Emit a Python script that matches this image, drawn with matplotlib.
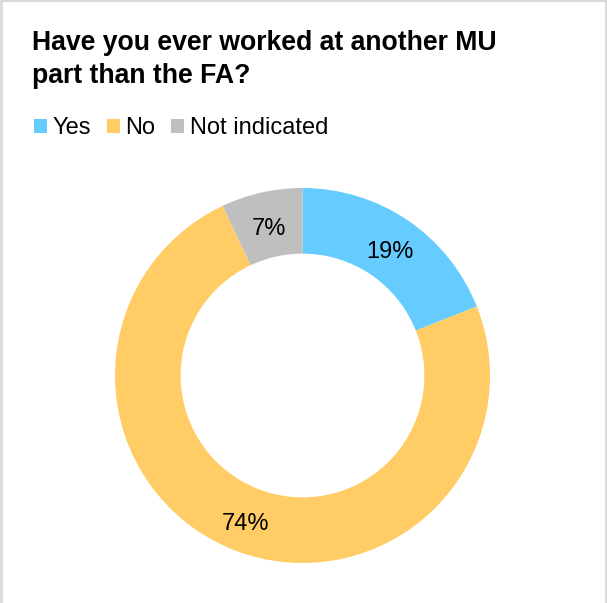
"""Donut chart: have respondents worked at another MU part than the FA."""

import matplotlib

matplotlib.use("Agg")
import matplotlib.pyplot as plt
import numpy as np
from matplotlib.lines import Line2D
from matplotlib.patches import Patch

categories = ["Yes", "No", "Not indicated"]
shares = [19, 74, 7]
colors = ["#66CCFF", "#FFCC66", "#BFBFBF"]
title = "Have you ever worked at another MU\npart than the FA?"

plt.rcParams["font.family"] = ["Liberation Sans", "DejaVu Sans"]

W, H = 607, 603
fig = plt.figure(figsize=(W / 100, H / 100), dpi=100)

# donut: centre (302, 376) px, outer radius 188 px
cx, cy, r = 302.5, 375.5, 187.5
ax = fig.add_axes([(cx - r) / W, 1 - (cy + r) / H, 2 * r / W, 2 * r / H])
ring = 0.35
ax.pie(
    shares,
    colors=colors,
    startangle=90,
    counterclock=False,
    radius=1.0,
    wedgeprops=dict(width=ring, linewidth=0),
)
ax.set_aspect("equal")
ax.set_xlim(-1, 1)
ax.set_ylim(-1, 1)

total = sum(shares)
start = 90.0
label_r = 1 - ring / 2
for share in shares:
    mid = np.deg2rad(start - 360 * share / total / 2)
    ax.text(label_r * np.cos(mid), label_r * np.sin(mid) - 0.01, f"{share}%",
            ha="center", va="center_baseline", fontsize=17, color="#000000")
    start -= 360 * share / total

fig.text(32 / W, 1 - 30 / H, title, ha="left", va="top", fontsize=19.2,
         fontweight="bold", linespacing=1.33)

handles = [Patch(facecolor=c, edgecolor="none") for c in colors]
fig.legend(handles, categories, loc="upper left",
           bbox_to_anchor=(25 / W, 1 - 108 / H), ncol=3, frameon=False,
           fontsize=17, handlelength=0.55, handleheight=0.55,
           handletextpad=0.22, columnspacing=0.68, borderaxespad=0)

# light frame on left, top and right
frame = "#D9D9D9"
fig.add_artist(Line2D([1.5 / W, 1.5 / W], [0, 1], color=frame, lw=2))
fig.add_artist(Line2D([0, 1], [1 - 0.5 / H, 1 - 0.5 / H], color=frame, lw=1.5))
fig.add_artist(Line2D([605.5 / W, 605.5 / W], [0, 1], color=frame, lw=2))

fig.savefig("out.png", dpi=100)
